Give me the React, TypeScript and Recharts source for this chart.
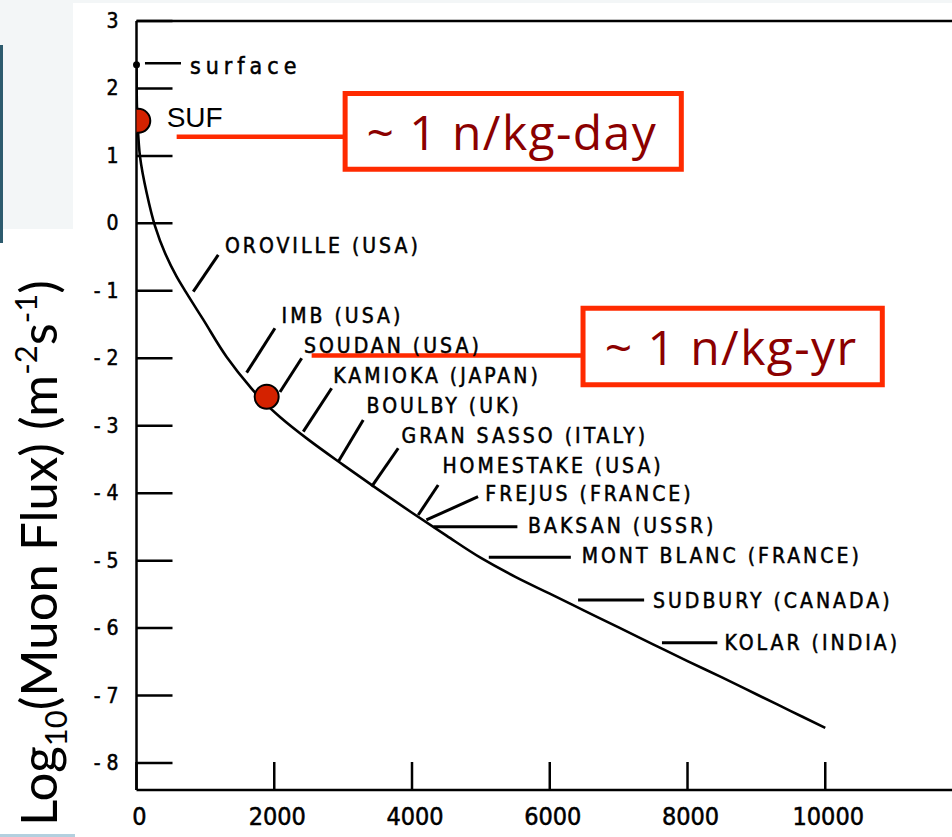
import React from 'react';
import {
  ComposedChart,
  Line,
  Scatter,
  XAxis,
  YAxis,
  ReferenceLine,
  ReferenceArea,
  ReferenceDot,
} from 'recharts';

// vertical depth (m.w.e.) and log10 of the muon flux (m^-2 s^-1)
const depth = [
  0, 4, 15, 51, 148, 269, 414, 583, 718, 965, 1309, 1647, 1850, 2083, 2500, 3000, 3500, 4000,
  4500, 5000, 5500, 6000, 6500, 7000, 7500, 8000, 8500, 9000, 9500, 10000,
];
const logFlux = [
  2.35, 1.83, 1.52, 0.99, 0.45, -0.04, -0.44, -0.79, -1.02, -1.42, -1.98, -2.42, -2.65, -2.87,
  -3.21, -3.58, -3.94, -4.29, -4.63, -4.96, -5.24, -5.49, -5.74, -5.99, -6.24, -6.49, -6.73,
  -6.98, -7.23, -7.48,
];

const xTicks = [0, 2000, 4000, 6000, 8000, 10000];
const yTicks = [-8, -7, -6, -5, -4, -3, -2, -1, 0, 1, 2, 3];

// highlighted labs (SUF near the surface, Soudan deep)
const markerNames = ['SUF', 'SOUDAN'];
const markerDepth = [26, 1890];
const markerFlux = [1.52, -2.57];

const curve = depth.map((d, i) => ({ depth: d, flux: logFlux[i] }));
const markers = markerNames.map((name, i) => ({ name, depth: markerDepth[i], flux: markerFlux[i] }));

// underground sites: leader from the curve to the label, in data units
type Site = { name: string; from: [number, number]; to: [number, number]; text: [number, number] };
const SITES: Site[] = [
  { name: 'OROVILLE (USA)', from: [824, -1.013], to: [1187, -0.468], text: [1284, -0.439] },
  { name: 'IMB (USA)', from: [1599, -2.213], to: [2010, -1.555], text: [2107, -1.477] },
  { name: 'SOUDAN (USA)', from: [2083, -2.5], to: [2398, -2.0], text: [2431, -1.921] },
  { name: 'KAMIOKA (JAPAN)', from: [2421, -3.088], to: [2833, -2.445], text: [2856, -2.366] },
  { name: 'BOULBY (UK)', from: [2929, -3.533], to: [3292, -2.915], text: [3341, -2.811] },
  { name: 'GRAN SASSO (ITALY)', from: [3414, -3.904], to: [3800, -3.334], text: [3849, -3.256] },
  { name: 'HOMESTAKE (USA)', from: [4090, -4.323], to: [4380, -3.878], text: [4441, -3.701] },
  { name: 'FREJUS (FRANCE)', from: [4209, -4.397], to: [4959, -4.052], text: [5064, -4.116] },
  { name: 'BAKSAN (USSR)', from: [4312, -4.497], to: [5530, -4.497], text: [5685, -4.59] },
  { name: 'MONT BLANC (FRANCE)', from: [5115, -4.95], to: [6306, -4.95], text: [6463, -5.035] },
  { name: 'SUDBURY (CANADA)', from: [6411, -5.583], to: [7370, -5.583], text: [7499, -5.702] },
  { name: 'KOLAR (INDIA)', from: [7629, -6.217], to: [8433, -6.217], text: [8536, -6.325] },
];

// neutron-rate call-outs
const RATE_BOXES = [
  {
    text: '~ 1 n/kg-day',
    x1: 3029, x2: 7910, y1: 0.804, y2: 1.926,
    textAt: [3341, 1.088],
    lead: [[583, 1.285], [3029, 1.285]],
  },
  {
    text: '~ 1 n/kg-yr',
    x1: 6483, x2: 10828, y1: -2.393, y2: -1.257,
    textAt: [6800, -2.099],
    lead: [[2543, -1.959], [6483, -1.959]],
  },
];

const TICK_FONT = '"DejaVu Sans Condensed", "Liberation Sans Narrow", "DejaVu Sans", sans-serif';
const CALLOUT_RED = '#ff2a00';

// the scanned lettering is a little heavier than the plain font
const INK = { fill: '#000', stroke: '#000', strokeWidth: 0.5 };

const YTick = ({ x, y, payload }: any) => (
  <g>
    <line x1={x} y1={y} x2={x + 36} y2={y} stroke="#000" strokeWidth={2.5} />
    <text x={x - 18} y={y + 7} textAnchor="end" fontFamily={TICK_FONT} fontSize={21} {...INK}>
      {payload.value < 0 ? `- ${-payload.value}` : String(payload.value)}
    </text>
  </g>
);

const XTick = ({ x, y, payload }: any) => (
  <g>
    <line x1={x} y1={y} x2={x} y2={y - 28} stroke="#000" strokeWidth={2.5} />
    <text x={x + 3} y={y + 35} textAnchor="middle" fontFamily={TICK_FONT} fontSize={25} {...INK}>
      {payload.value}
    </text>
  </g>
);

const textShape = (label: string, style: React.SVGProps<SVGTextElement>) => (p: any) => (
  <text x={p.cx} y={p.cy} {...style}>
    {label}
  </text>
);

const MarkerDot = (p: any) => (
  <circle cx={p.cx} cy={p.cy} r={12} fill="#d42200" stroke="#000" strokeWidth={2} />
);

export default function App() {
  return (
    <div
      style={{
        position: 'absolute',
        left: 0,
        top: 0,
        width: 952,
        height: 837,
        background: '#fff',
        overflow: 'hidden',
      }}
    >
      <div style={{ position: 'absolute', left: 0, top: 0, width: 952, height: 3, background: '#f3f6f7' }} />
      <div style={{ position: 'absolute', left: 0, top: 0, width: 73, height: 229, background: '#f3f6f7' }} />
      <div style={{ position: 'absolute', left: 0, top: 45, width: 3, height: 198, background: '#2d5b6e' }} />
      <div style={{ position: 'absolute', left: 0, top: 834, width: 75, height: 3, background: '#b3d0df' }} />

      <div style={{ position: 'absolute', left: 0, top: 0 }}>
        <ComposedChart width={952} height={837} margin={{ top: 21, right: 0, bottom: 0, left: 76.5 }}>
          <XAxis
            dataKey="depth"
            type="number"
            domain={[0, 11840]}
            ticks={xTicks}
            interval={0}
            allowDataOverflow
            height={47}
            tickSize={0}
            tickMargin={0}
            tickLine={false}
            axisLine={{ stroke: '#000', strokeWidth: 2.5 }}
            tick={<XTick />}
          />
          <YAxis
            dataKey="flux"
            type="number"
            domain={[-8.4, 3]}
            ticks={yTicks}
            interval={0}
            allowDataOverflow
            width={60}
            tickSize={0}
            tickMargin={0}
            tickLine={false}
            axisLine={{ stroke: '#000', strokeWidth: 2.5 }}
            tick={<YTick />}
          />

          {/* frame top */}
          <ReferenceLine y={3} stroke="#000" strokeWidth={2.5} />

          <Line
            data={curve}
            dataKey="flux"
            type="monotoneY"
            stroke="#000"
            strokeWidth={2.6}
            dot={false}
            activeDot={false}
            isAnimationActive={false}
          />

          {/* surface point and its label */}
          <ReferenceDot x={depth[0]} y={logFlux[0]} r={3.5} fill="#000" stroke="none" />
          <ReferenceLine segment={[{ x: 123, y: 2.374 }, { x: 646, y: 2.374 }]} stroke="#000" strokeWidth={2.5} />
          <ReferenceDot
            x={776}
            y={2.215}
            r={1}
            shape={textShape('surface', {
              fontFamily: TICK_FONT,
              fontSize: 23,
              letterSpacing: 5,
              ...INK,
            })}
          />

          {SITES.map((s) => (
            <ReferenceLine
              key={`lead-${s.name}`}
              segment={[
                { x: s.from[0], y: s.from[1] },
                { x: s.to[0], y: s.to[1] },
              ]}
              stroke="#000"
              strokeWidth={3}
            />
          ))}
          {SITES.map((s) => (
            <ReferenceDot
              key={`name-${s.name}`}
              x={s.text[0]}
              y={s.text[1]}
              r={1}
              shape={textShape(s.name, {
                fontFamily: TICK_FONT,
                fontSize: 21,
                letterSpacing: 3,
                ...INK,
              })}
            />
          ))}

          <ReferenceDot
            x={438}
            y={1.429}
            r={1}
            shape={textShape('SUF', {
              fontFamily: '"Liberation Sans", Arial, sans-serif',
              fontSize: 28,
              fill: '#000',
            })}
          />

          {RATE_BOXES.map((b) => (
            <ReferenceLine
              key={`lead-${b.text}`}
              segment={[
                { x: b.lead[0][0], y: b.lead[0][1] },
                { x: b.lead[1][0], y: b.lead[1][1] },
              ]}
              stroke={CALLOUT_RED}
              strokeWidth={4.5}
            />
          ))}
          {RATE_BOXES.map((b) => (
            <ReferenceArea
              key={`box-${b.text}`}
              x1={b.x1}
              x2={b.x2}
              y1={b.y1}
              y2={b.y2}
              fill="#fff"
              fillOpacity={1}
              stroke={CALLOUT_RED}
              strokeWidth={5}
            />
          ))}
          {RATE_BOXES.map((b) => (
            <ReferenceDot
              key={`text-${b.text}`}
              x={b.textAt[0]}
              y={b.textAt[1]}
              r={1}
              shape={textShape(b.text, {
                fontFamily: '"Open Sans", "Noto Sans", sans-serif',
                fontSize: 48,
                letterSpacing: 1.4,
                fill: '#8b0000',
              })}
            />
          ))}

          <Scatter
            data={markers}
            dataKey="flux"
            shape={<MarkerDot />}
            isAnimationActive={false}
          />
        </ComposedChart>
      </div>

      <svg
        width={952}
        height={837}
        style={{ position: 'absolute', left: 0, top: 0, pointerEvents: 'none' }}
      >
        <text
          transform="rotate(-90)"
          x={-553}
          y={57}
          textAnchor="middle"
          fontFamily="Lato, 'Open Sans', sans-serif"
          fontSize={51}
          fill="#000"
        >
          Log
          <tspan fontSize={31} dy={10}>10</tspan>
          <tspan dy={-10}>(Muon Flux) (m</tspan>
          <tspan fontSize={31} dy={-20}>-2</tspan>
          <tspan dy={20}>s</tspan>
          <tspan fontSize={31} dy={-20}>-1</tspan>
          <tspan dy={20}>)</tspan>
        </text>
      </svg>
    </div>
  );
}
